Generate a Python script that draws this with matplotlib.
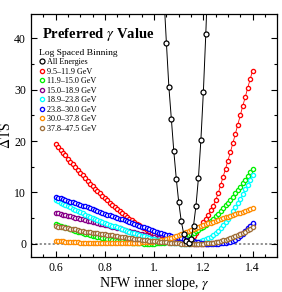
import numpy as np
import matplotlib
matplotlib.use('Agg')
import matplotlib.pyplot as plt
from matplotlib.ticker import MultipleLocator, FixedLocator, FixedFormatter

plt.rcParams['font.family'] = ['Liberation Serif', 'DejaVu Serif']
plt.rcParams['mathtext.fontset'] = 'stix'

gamma = np.linspace(0.6, 1.4, 81)

gamma_all = [1.04, 1.05, 1.06, 1.07, 1.08, 1.09, 1.10, 1.11, 1.12, 1.13,
             1.14, 1.15, 1.16, 1.17, 1.18, 1.19, 1.20, 1.21, 1.22]
ts_all = [48.0, 39.0, 30.5, 24.3, 18.0, 12.7, 8.1, 4.5, 2.0, 0.5,
          0.1, 1.0, 3.5, 7.4, 12.8, 20.2, 29.5, 40.9, 54.0]

ts_red = [19.5, 18.9, 18.3, 17.7, 17.2, 16.6, 16.0, 15.5, 14.9, 14.4,
          13.8, 13.3, 12.8, 12.2, 11.7, 11.2, 10.7, 10.2, 9.8, 9.3,
          8.9, 8.5, 8.0, 7.6, 7.2, 6.8, 6.4, 6.0, 5.6, 5.3,
          4.9, 4.6, 4.2, 3.9, 3.6, 3.3, 3.0, 2.7, 2.5, 2.2,
          2.0, 1.8, 1.5, 1.3, 1.1, 0.9, 0.7, 0.5, 0.4, 0.3,
          0.3, 0.3, 0.4, 0.5, 0.8, 1.1, 1.6, 2.2, 2.8, 3.5,
          4.2, 4.9, 5.6, 6.5, 7.4, 8.5, 9.8, 11.4, 13.0, 14.6,
          16.2, 17.9, 19.6, 21.4, 23.2, 25.0, 26.8, 28.5, 30.3, 32.0,
          33.7]
ts_green = [3.9, 3.7, 3.5, 3.3, 3.2, 3.0, 2.8, 2.7, 2.5, 2.4,
            2.3, 2.1, 2.0, 1.9, 1.7, 1.6, 1.5, 1.4, 1.3, 1.2,
            1.1, 1.0, 0.9, 0.8, 0.7, 0.6, 0.55, 0.5, 0.4, 0.35,
            0.3, 0.25, 0.2, 0.15, 0.1, 0.1, 0.05, 0.05, 0.05, 0.05,
            0.05, 0.1, 0.15, 0.2, 0.25, 0.3, 0.4, 0.5, 0.6, 0.75,
            0.9, 1.1, 1.3, 1.5, 1.7, 1.9, 2.2, 2.5, 2.7, 3.0,
            3.3, 3.7, 4.1, 4.5, 4.9, 5.4, 5.9, 6.4, 6.9, 7.5,
            8.0, 8.6, 9.2, 9.8, 10.5, 11.1, 11.8, 12.5, 13.2, 13.9,
            14.6]
ts_purple = [6.1, 6.0, 5.8, 5.7, 5.6, 5.5, 5.4, 5.3, 5.1, 5.0,
             4.9, 4.8, 4.7, 4.5, 4.4, 4.3, 4.2, 4.1, 3.9, 3.8,
             3.7, 3.6, 3.5, 3.3, 3.2, 3.1, 3.0, 2.9, 2.7, 2.6,
             2.5, 2.4, 2.3, 2.1, 2.0, 1.9, 1.8, 1.7, 1.5, 1.4,
             1.3, 1.2, 1.1, 1.0, 0.9, 0.8, 0.7, 0.6, 0.55, 0.45,
             0.4, 0.35, 0.3, 0.2, 0.15, 0.1, 0.05, 0.05, 0.0, 0.0,
             0.0, 0.0, 0.05, 0.1, 0.15, 0.2, 0.3, 0.4, 0.5, 0.6,
             0.7, 0.85, 1.0, 1.2, 1.5, 1.9, 2.2, 2.6, 3.0, 3.4,
             3.8]
ts_cyan = [8.5, 8.3, 8.0, 7.8, 7.5, 7.3, 7.1, 6.8, 6.6, 6.4,
           6.2, 6.0, 5.7, 5.5, 5.3, 5.1, 4.9, 4.7, 4.5, 4.3,
           4.1, 3.9, 3.7, 3.5, 3.4, 3.2, 3.0, 2.9, 2.7, 2.6,
           2.4, 2.2, 2.1, 1.9, 1.8, 1.6, 1.5, 1.3, 1.2, 1.0,
           0.9, 0.8, 0.7, 0.6, 0.5, 0.4, 0.3, 0.25, 0.2, 0.15,
           0.1, 0.05, 0.05, 0.05, 0.05, 0.1, 0.15, 0.25, 0.4, 0.55,
           0.7, 0.9, 1.1, 1.4, 1.7, 2.1, 2.6, 3.1, 3.6, 4.2,
           4.8, 5.5, 6.3, 7.1, 7.9, 8.8, 9.7, 10.6, 11.5, 12.4,
           13.3]
ts_blue = [9.2, 9.0, 8.9, 8.7, 8.5, 8.4, 8.2, 8.1, 7.9, 7.8,
           7.6, 7.4, 7.3, 7.1, 6.9, 6.8, 6.6, 6.4, 6.2, 6.1,
           5.9, 5.7, 5.6, 5.4, 5.3, 5.1, 4.9, 4.8, 4.6, 4.4,
           4.2, 4.0, 3.9, 3.7, 3.5, 3.3, 3.2, 3.0, 2.8, 2.7,
           2.5, 2.4, 2.2, 2.1, 1.9, 1.8, 1.7, 1.5, 1.4, 1.3,
           1.15, 1.05, 0.95, 0.8, 0.7, 0.6, 0.5, 0.4, 0.3, 0.2,
           0.1, 0.05, 0.0, 0.0, 0.0, 0.0, 0.05, 0.1, 0.15, 0.2,
           0.3, 0.4, 0.6, 0.8, 1.2, 1.6, 2.0, 2.5, 3.0, 3.5,
           4.0]
ts_orange = [0.6, 0.56, 0.52, 0.48, 0.44, 0.4, 0.37, 0.34, 0.31, 0.28,
             0.25, 0.23, 0.21, 0.19, 0.17, 0.15, 0.14, 0.13, 0.12, 0.11,
             0.1, 0.1, 0.1, 0.1, 0.1, 0.1, 0.1, 0.11, 0.12, 0.13,
             0.15, 0.17, 0.2, 0.23, 0.26, 0.3, 0.34, 0.38, 0.42, 0.46,
             0.5, 0.57, 0.65, 0.72, 0.8, 0.9, 1.05, 1.2, 1.4, 1.6,
             1.8, 2.0, 2.2, 2.35, 2.5, 2.7, 2.9, 3.05, 3.25, 3.4,
             3.6, 3.8, 4.0, 4.15, 4.35, 4.5, 4.65, 4.8, 5.0, 5.15,
             5.3, 5.45, 5.6, 5.8, 5.95, 6.1, 6.25, 6.4, 6.6, 6.75,
             6.9]
ts_brown = [3.4, 3.3, 3.2, 3.2, 3.1, 3.0, 2.9, 2.8, 2.8, 2.7,
            2.6, 2.5, 2.4, 2.4, 2.3, 2.2, 2.1, 2.1, 2.0, 1.95,
            1.9, 1.8, 1.75, 1.65, 1.6, 1.5, 1.4, 1.35, 1.25, 1.2,
            1.1, 1.05, 1.0, 0.95, 0.9, 0.85, 0.8, 0.7, 0.65, 0.6,
            0.55, 0.5, 0.45, 0.4, 0.35, 0.3, 0.25, 0.2, 0.15, 0.12,
            0.1, 0.07, 0.05, 0.03, 0.01, 0.0, 0.0, 0.0, 0.01, 0.03,
            0.05, 0.08, 0.12, 0.18, 0.25, 0.35, 0.45, 0.55, 0.7, 0.8,
            0.95, 1.1, 1.3, 1.5, 1.7, 1.9, 2.15, 2.4, 2.65, 2.9,
            3.2]

labels = ['9.5\u201311.9 GeV', '11.9\u201315.0 GeV', '15.0\u201318.9 GeV',
          '18.9\u201323.8 GeV', '23.8\u201330.0 GeV', '30.0\u201337.8 GeV',
          '37.8\u201347.5 GeV']
colors = ['#ff0000', '#00f000', '#880088', '#00ffff', '#0000ff', '#ff8c00', '#a0703a']
series = [ts_red, ts_green, ts_purple, ts_cyan, ts_blue, ts_orange, ts_brown]

xticks = [0.6, 0.8, 1.0, 1.2, 1.4]
xticklabels = ['0.6', '0.8', '1.', '1.2', '1.4']
yticks = [0, 10, 20, 30, 40]

fig = plt.figure(figsize=(2.82, 2.92), dpi=100)
ax = fig.add_axes([0.110, 0.119, 0.873, 0.833])

ax.axhline(0, color='#888888', ls=(0, (1.2, 1.2)), lw=1.3, zorder=1)

ax.plot(gamma_all, ts_all, '-o', color='k', lw=0.7, ms=3.6, mew=0.9,
        mfc='white', label='All Energies', zorder=5)
for ts, c, lab in zip(series, colors, labels):
    ax.plot(gamma, ts, '-o', color=c, lw=0.6, ms=3.0, mew=0.95,
            mfc='white', label=lab, zorder=3)

ax.set_xlim(0.5, 1.5)
ax.set_ylim(-2.6, 44.7)
ax.xaxis.set_major_locator(FixedLocator(xticks))
ax.xaxis.set_major_formatter(FixedFormatter(xticklabels))
ax.xaxis.set_minor_locator(MultipleLocator(0.05))
ax.set_yticks(yticks)
ax.yaxis.set_minor_locator(MultipleLocator(5))
ax.tick_params(which='both', direction='in', top=True, right=True, labelsize=8.5, width=0.8)
ax.tick_params(which='major', length=4)
ax.tick_params(which='minor', length=2.5)
for s in ax.spines.values():
    s.set_linewidth(0.9)

ax.set_xlabel('NFW inner slope, $\\gamma$', fontsize=10, labelpad=0.5)
ax.set_ylabel('$\\Delta$TS', fontsize=10, labelpad=1)

ax.text(0.045, 0.915, 'Preferred $\\gamma$ Value', transform=ax.transAxes,
        fontsize=10.5, fontweight='bold', va='center', ha='left')

leg = ax.legend(loc='upper left', bbox_to_anchor=(0.03, 0.86), frameon=False,
                title='Log Spaced Binning', title_fontsize=6.8, fontsize=5.9,
                handlelength=0.6, handletextpad=0.4, labelspacing=0.18,
                borderpad=0.1, borderaxespad=0.0)
leg._legend_box.align = 'left'
for h in leg.legend_handles:
    h.set_linestyle('none')

fig.savefig('out.png', dpi=100)
